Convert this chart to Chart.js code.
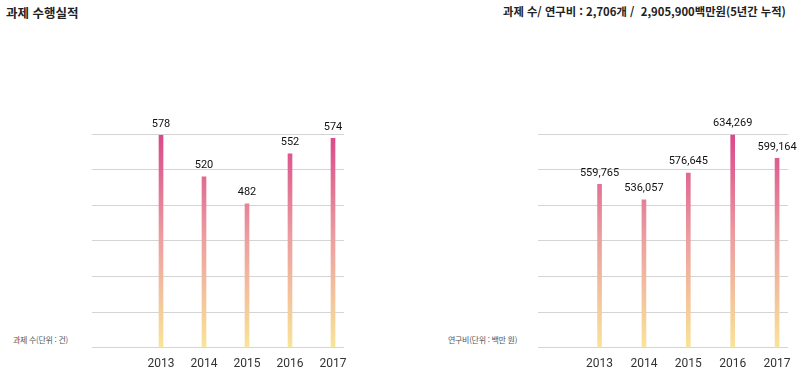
<!DOCTYPE html>
<html lang="ko">
<head>
<meta charset="utf-8">
<script src="https://cdn.jsdelivr.net/npm/chart.js@4/dist/chart.umd.min.js"></script>
<style>
    html, body { margin: 0; padding: 0; background: #fff; }
    body { width: 800px; height: 390px; position: relative; overflow: hidden; font-family: 'Noto Sans CJK KR', sans-serif; }
    .title { position: absolute; top: 3px; color: #222; white-space: nowrap; }
    .unit { position: absolute; top: 334px; font-size: 8px; color: #555; white-space: nowrap; letter-spacing: -0.3px; }
    .box { position: absolute; top: 100px; height: 280px; }
</style>
</head>
<body>
<div class="title" style="left:6px; font-size:12.5px; font-weight:700;">과제 수행실적</div>
<div class="title" style="left:503px; font-size:11.3px; font-weight:600;">과제 수/ 연구비 : 2,706개 /&nbsp; 2,905,900백만원(5년간 누적)</div>
<div class="unit" style="left:13px;">과제 수(단위 : 건)</div>
<div class="unit" style="left:448px;">연구비(단위 : 백만 원)</div>
<div class="box" style="left:60px; width:300px;"><canvas id="countChart"></canvas></div>
<div class="box" style="left:506px; width:294px;"><canvas id="fundChart"></canvas></div>

<script>
// 데이터
const years = [2013, 2014, 2015, 2016, 2017];
const projectCounts = [578, 520, 482, 552, 574];
const researchFunds = [559765, 536057, 576645, 634269, 599164];

const numberFont = "'Roboto', 'Liberation Sans', sans-serif";
const gridColor = '#d4d4d4';

// 막대 그라데이션 (차트 영역 기준: 위 분홍 -> 아래 노랑)
function barGradient(context) {
    const area = context.chart.chartArea;
    if (!area) return '#e06a96';
    const g = context.chart.ctx.createLinearGradient(0, area.top, 0, area.bottom);
    g.addColorStop(0, '#d9488a');
    g.addColorStop(0.5, '#eda0a0');
    g.addColorStop(1, '#f9e498');
    return g;
}

// 막대 위 값 표시
const valueLabels = {
    id: 'valueLabels',
    afterDatasetsDraw(chart, args, opts) {
        const ctx = chart.ctx;
        const meta = chart.getDatasetMeta(0);
        ctx.save();
        ctx.font = '11px ' + numberFont;
        ctx.fillStyle = '#111';
        ctx.textAlign = 'center';
        ctx.textBaseline = 'bottom';
        meta.data.forEach((bar, i) => {
            const v = chart.data.datasets[0].data[i].y;
            ctx.fillText(opts.format(v), bar.x, bar.y - 6);
        });
        ctx.restore();
    }
};

function makeChart(id, values, yMin, yMax, xMin, xMax, padRight, format) {
    return new Chart(document.getElementById(id), {
        type: 'bar',
        data: {
            datasets: [{
                data: years.map((y, i) => ({ x: y, y: values[i] })),
                backgroundColor: barGradient,
                barThickness: 4,
                borderWidth: 0
            }]
        },
        plugins: [valueLabels],
        options: {
            responsive: true,
            maintainAspectRatio: false,
            animation: false,
            layout: { padding: { left: 32, right: padRight, top: 34, bottom: 0 } },
            plugins: {
                legend: { display: false },
                tooltip: { enabled: false },
                valueLabels: { format: format }
            },
            scales: {
                x: {
                    type: 'linear',
                    offset: false,
                    min: xMin,
                    max: xMax,
                    afterBuildTicks: (scale) => { scale.ticks = years.map(v => ({ value: v })); },
                    grid: { display: false, drawTicks: false, offset: false },
                    border: { display: false },
                    ticks: {
                        autoSkip: false,
                        maxRotation: 0,
                        padding: 9,
                        color: '#333',
                        font: { family: numberFont, size: 12 },
                        callback: (v) => String(v)
                    }
                },
                y: {
                    min: yMin,
                    max: yMax,
                    ticks: { display: false, stepSize: (yMax - yMin) / 6 },
                    grid: { color: gridColor, lineWidth: 1, drawTicks: false },
                    border: { display: false }
                }
            }
        }
    });
}

makeChart('countChart', projectCounts, 280, 580, 2011.395, 2017.256, 16, (v) => String(v));
makeChart('fundChart', researchFunds, 312000, 636000, 2011.613, 2017.246, 10, (v) => v.toLocaleString('en-US'));
</script>
</body>
</html>
